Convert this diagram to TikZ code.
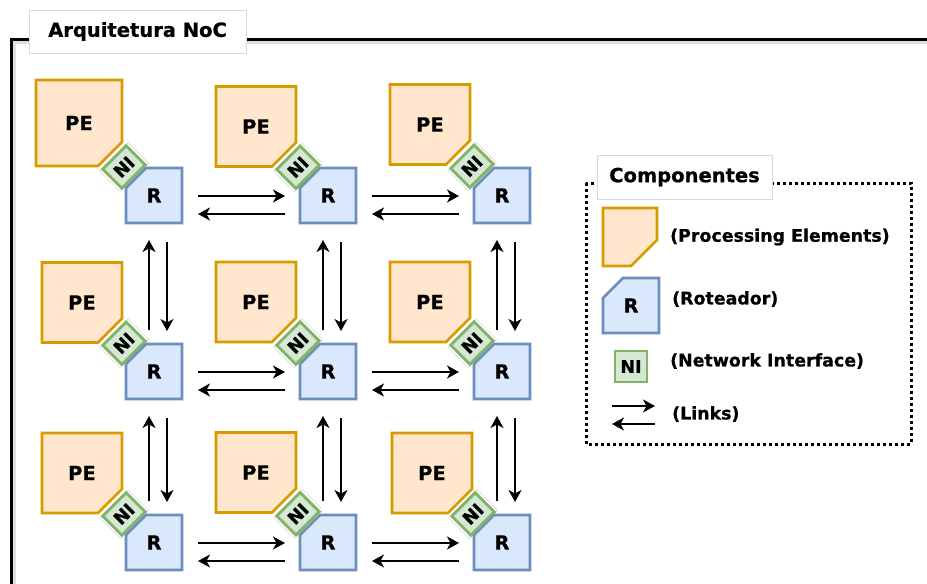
\documentclass[tikz,border=0pt]{standalone}
\usepackage{fontspec}
\setmainfont{DejaVu Sans}[BoldFeatures={FakeBold=0.6}]
\usetikzlibrary{arrows.meta,backgrounds,calc}

\definecolor{peFill}{HTML}{FFE6CC}
\definecolor{peLine}{HTML}{D79B00}
\definecolor{rFill}{HTML}{DAE8FC}
\definecolor{rLine}{HTML}{6C8EBF}
\definecolor{niFill}{HTML}{D5E8D4}
\definecolor{niLine}{HTML}{82B366}

\tikzset{
  bigfont/.style={font=\bfseries\fontsize{19.5}{19.5}\selectfont},
  pebox/.style={minimum width=80pt, minimum height=80pt, inner sep=0pt, outer sep=0pt, bigfont},
  rbox/.style={minimum width=56pt, minimum height=55pt, inner sep=0pt, outer sep=0pt, bigfont},
  peshape/.style={draw=peLine, fill=peFill, line width=2.8pt},
  rshape/.style={draw=rLine, fill=rFill, line width=2.8pt},
  nibox/.style={draw=niLine, fill=niFill, line width=2.8pt, inner sep=0pt,
    font=\bfseries\fontsize{17.5}{17.5}\selectfont},
  niturned/.style={nibox, minimum width=33pt, minimum height=27pt, rotate=45},
  nishade/.style={draw=black!12, fill=white, line width=0.8pt, minimum width=40pt,
    minimum height=29pt, inner sep=0pt, rotate=45},
  link/.style={-{Stealth[length=12pt,width=13pt,inset=3.5pt]}, line width=1.9pt},
  titlebox/.style={draw=black!15, fill=white, line width=0.8pt, inner sep=0pt, bigfont},
  legendtext/.style={anchor=west, inner sep=0pt, font=\bfseries\fontsize{17.4}{17.4}\selectfont},
}

% processing element outline: square with the lower right corner cut off
\newcommand\pepoly[2]{%
  \path[peshape] (#1.north west) -- (#1.north east) -- ([yshift=#2]#1.south east)
    -- ([xshift=-#2]#1.south east) -- (#1.south west) -- cycle;}
% router outline: square with the upper left corner cut off
\newcommand\rpoly[2]{%
  \path[rshape] (#1.south west) -- ([yshift=-#2]#1.north west) -- ([xshift=#2]#1.north west)
    -- (#1.north east) -- (#1.south east) -- cycle;}

\begin{document}
\begin{tikzpicture}[x=1pt, y=-1pt]
\useasboundingbox (0,0) rectangle (927,584);
\clip (0,0) rectangle (927,584);

% processing elements
\node[pebox, minimum width=86pt, minimum height=86pt] (PE11) at (79,123) {PE};
\node[pebox] (PE12) at (256,126.5) {PE};
\node[pebox] (PE13) at (430,124.5) {PE};
\node[pebox] (PE21) at (82,302.5) {PE};
\node[pebox] (PE22) at (256,302) {PE};
\node[pebox] (PE23) at (430,302) {PE};
\node[pebox] (PE31) at (82,473) {PE};
\node[pebox] (PE32) at (256,472.5) {PE};
\node[pebox] (PE33) at (432,473) {PE};

% routers
\node[rbox] (R11) at (154,195.5) {R};
\node[rbox] (R12) at (328,195.5) {R};
\node[rbox] (R13) at (502,195.5) {R};
\node[rbox] (R21) at (154,371.5) {R};
\node[rbox] (R22) at (328,371.5) {R};
\node[rbox] (R23) at (502,371.5) {R};
\node[rbox] (R31) at (154,542.5) {R};
\node[rbox] (R32) at (328,542.5) {R};
\node[rbox] (R33) at (502,542.5) {R};

% legend symbols
\node[minimum width=54pt, minimum height=58pt, inner sep=0pt, outer sep=0pt] (lgPE) at (630,237) {};
\node[rbox] (lgR) at (631,305.5) {R};
\node[nibox, minimum width=32pt, minimum height=31pt] (lgNI) at (631,366.5) {NI};

\begin{pgfonlayer}{background}
  \fill[white] (0,0) rectangle (927,584);
  % outer frame with its soft shadow
  \draw[line width=3pt, black!12] (14.5,600) -- (14.5,42.5) -- (940,42.5);
  \draw[line width=3pt] (11.5,600) -- (11.5,39.5) -- (940,39.5);
  % legend frame
  \draw[line width=3pt, dash pattern=on 3pt off 3pt] (586,183) rectangle (911,444);
  % white pads behind the network interfaces
  \foreach \i in {11,12,13,21,22,23,31,32,33}{
    \node[nishade] at ($(PE\i.south east)!0.55!(R\i.north west)$) {};
  }
  \foreach \p in {PE11,PE12,PE13,PE21,PE22,PE23,PE31,PE32,PE33}{\pepoly{\p}{24pt}}
  \foreach \r in {R11,R12,R13,R21,R22,R23,R31,R32,R33}{\rpoly{\r}{20pt}}
  \pepoly{lgPE}{26pt}
  \rpoly{lgR}{20pt}
\end{pgfonlayer}

% network interfaces between each PE and its router
\foreach \i in {11,12,13,21,22,23,31,32,33}{
  \node[niturned] (NI\i) at ($(PE\i.south east)!0.5!(R\i.north west)$) {NI};
}

% horizontal links
\foreach \a/\b in {11/12,12/13,21/22,22/23,31/32,32/33}{
  \draw[link] ($(R\a.north east)+(16,28)$) -- ($(R\b.north west)+(-15,28)$);
  \draw[link] ($(R\b.north west)+(-15,46)$) -- ($(R\a.north east)+(16,46)$);
}
% vertical links
\foreach \a/\b in {11/21,12/22,13/23,21/31,22/32,23/33}{
  \draw[link] ($(R\b.north west)+(23,-14)$) -- ($(R\a.south west)+(23,17)$);
  \draw[link] ($(R\a.south west)+(41,19)$) -- ($(R\b.north west)+(41,-13)$);
}

% titles
\node[titlebox, minimum width=217pt, minimum height=43pt] (title) at (137.5,31.5) {Arquitetura NoC};
\node[titlebox, minimum width=175pt, minimum height=44pt] (legtitle) at (684.5,177) {Componentes};

% legend texts and link sample
\node[legendtext] (tPE) at (670,237) {(Processing Elements)};
\node[legendtext] (tR) at (672,299) {(Roteador)};
\node[legendtext] (tNI) at (670,361) {(Network Interface)};
\coordinate (lk1) at (612,406);
\coordinate (lk2) at (655,406);
\coordinate (lk3) at (655,424);
\coordinate (lk4) at (612,424);
\draw[link] (lk1) -- (lk2);
\draw[link] (lk3) -- (lk4);
\node[legendtext] (tL) at (672,414) {(Links)};
\end{tikzpicture}
\end{document}
